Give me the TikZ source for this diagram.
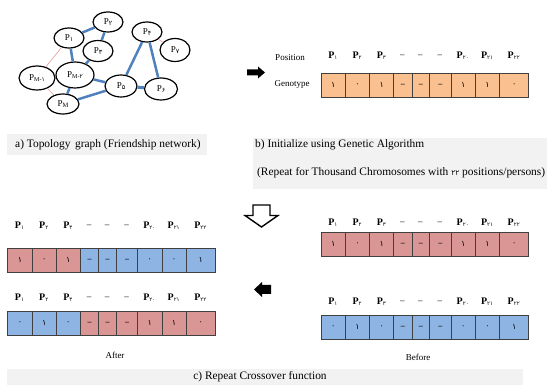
\documentclass[tikz,border=0pt]{standalone}
\usepackage{fontspec}
\setmainfont{Liberation Serif}
\newfontfamily\fa[Script=Arabic]{DejaVu Sans}
\usetikzlibrary{shapes.geometric}
\definecolor{gblue}{HTML}{4F81BD}
\definecolor{pinkedge}{HTML}{E39A9A}
\definecolor{orfill}{HTML}{FAC090}
\definecolor{rdfill}{HTML}{D99694}
\definecolor{blfill}{HTML}{8EB4E3}
\definecolor{cellborder}{HTML}{404040}
\definecolor{capbg}{HTML}{F2F2F2}
\newcommand\one{{\fa ۱}}
\newcommand\zer{{\fa ۰}}
\newcommand\dsh{{\fontsize{8}{8}\selectfont\bfseries –}}
\newcommand\hP[1]{\textbf{P}\raisebox{-0.3ex}{\fa\fontsize{5.5}{5.5}\selectfont #1}}
\newcommand\hD{{\fontsize{9}{9}\selectfont –}}
\newcommand\gP[1]{P\raisebox{-0.2ex}{\fa\fontsize{6.5}{6.5}\selectfont #1}}
\newcommand\hdrrow[3]{%
  \foreach \i/\c/\t in {1/12.15/\hP{۱},2/36.45/\hP{۲},3/60.6/\hP{۳},4/81.75/\hD,5/99.75/\hD,6/119.25/\hD,7/142.05/\hP{۲۰},8/166.35/\hP{۲۱},9/193/\hP{۲۲}}
  {\node[hdr] (#1-\i) at (#2+\c,#3) {\t};}}
\newcommand\cellrow[4]{%
  \foreach \f/\v [count=\i] in {#4} {
    \pgfmathsetmacro\xa{{0,24.3,48.6,72.6,90.9,108.6,129.9,154.2,178.5}[\i-1]}
    \pgfmathsetmacro\w{{24.3,24.3,24,18.3,17.7,21.3,24.3,24.3,29}[\i-1]}
    \node[cellbox, fill=\f, minimum width=\w, minimum height=24, anchor=north west] (#1-\i) at (#2+\xa,#3) {\v};
  }}
\begin{document}
\begin{tikzpicture}[x=1pt,y=-1pt,
  gnode/.style={ellipse, draw, line width=1.2pt, inner sep=0pt, font=\fontsize{9}{10}\selectfont},
  bedge/.style={draw=gblue, line width=2.5pt},
  pedge/.style={draw=pinkedge, line width=0.6pt},
  cellbox/.style={rectangle, draw=cellborder, line width=0.9pt, inner sep=0pt, font=\fontsize{8}{8}\selectfont},
  hdr/.style={font=\fontsize{10}{11}\selectfont, inner sep=0pt},
  lbl/.style={font=\fontsize{9}{10}\selectfont, inner sep=0pt},
  captxt/.style={font=\fontsize{11.4}{13}\selectfont, inner sep=0pt},
  capbox/.style={fill=capbg, inner sep=0pt, anchor=north west}]
\useasboundingbox (0,0) rectangle (547,385);

% ---- graph ----
\node[gnode, minimum width=30, minimum height=20] (p1) at (69,38) {\gP{۱}};
\node[gnode, minimum width=30, minimum height=20] (p2) at (108,22) {\gP{۲}};
\node[gnode, minimum width=30, minimum height=21] (p3) at (98,51) {\gP{۳}};
\node[gnode, minimum width=30, minimum height=20] (p4) at (147,32) {\gP{۴}};
\node[gnode, minimum width=30, minimum height=23] (p7) at (175,50) {\gP{۷}};
\node[gnode, minimum width=36, minimum height=24] (pm1) at (37,78) {P\raisebox{-0.4ex}{\fontsize{6}{6}\selectfont M-{\fa ۱}}};
\node[gnode, minimum width=38, minimum height=26] (pm2) at (75,75) {P\raisebox{-0.4ex}{\fontsize{6}{6}\selectfont M-{\fa ۲}}};
\node[gnode, minimum width=32, minimum height=20] (pm) at (63,104) {P\raisebox{-0.4ex}{\fontsize{6.5}{6.5}\selectfont M}};
\node[gnode, minimum width=32, minimum height=22] (p5) at (121,86) {\gP{۵}};
\node[gnode, minimum width=33, minimum height=22] (p6) at (161,89) {\gP{۶}};

\draw[bedge] (p1) -- (p2);
\draw[bedge] (p2) -- (p3);
\draw[bedge] (p1) -- (pm2);
\draw[bedge] (p3) -- (pm2);
\draw[bedge] (pm2) -- (p5);
\draw[bedge] (pm2) -- (pm);
\draw[bedge] (pm) -- (p5);
\draw[bedge] (p5) -- (p4);
\draw[bedge] (p4) -- (p6);
\draw[bedge, line width=3pt] (p5) -- (p6);
\draw[pedge] (p4) -- (p7);
\draw[pedge] (p1) -- (pm1);
\draw[pedge] (pm1) -- (pm);

% ---- right arrow ----
\fill (247,69.5) -- (258,69.5) -- (258,66.5) -- (265,72.5) -- (258,78.5) -- (258,75.5) -- (247,75.5) -- cycle;

% ---- initial chromosome ----
\node[lbl] (pos) at (290,58) {Position};
\node[lbl] (gen) at (292,84) {Genotype};
\hdrrow{th}{320.7}{56}
\cellrow{tc}{320.7}{73}{orfill/\one,orfill/\zer,orfill/\one,orfill/\dsh,orfill/\dsh,orfill/\dsh,orfill/\one,orfill/\one,orfill/\zer}

% ---- captions ----
\node[capbox, minimum width=200, minimum height=21] (capa) at (7,134) {};
\node[captxt, anchor=west] (capatxt) at (15,144.5) {a) Topology\, graph (Friendship network)};
\node[capbox, minimum width=294.3, minimum height=51] (capb) at (252.7,137.7) {};
\node[captxt, anchor=west] (capbtxt) at (255,144.5) {b) Initialize using Genetic Algorithm};
\node[captxt, anchor=west] (capbtxt2) at (257,172.5) {(Repeat for Thousand Chromosomes with {\fa\fontsize{7.5}{7.5}\selectfont ۲۲} positions/persons)};

% ---- down arrow ----
\draw[line width=1.4pt, fill=white, line join=miter] (253,205) -- (270,205) -- (270,215.5) -- (278,215.5) -- (261.5,227) -- (245,215.5) -- (253,215.5) -- cycle;

% ---- left arrow ----
\fill (254,289.5) -- (262,282) -- (262,285) -- (271,285) -- (271,294) -- (262,294) -- (262,297) -- cycle;

% ---- after ----
\hdrrow{a1h}{7.3}{226}
\cellrow{a1c}{7.3}{248}{rdfill/\one,rdfill/\zer,rdfill/\one,blfill/\dsh,blfill/\dsh,blfill/\dsh,blfill/\zer,blfill/\zer,blfill/\one}
\hdrrow{a2h}{7.3}{298}
\cellrow{a2c}{7.3}{311}{blfill/\zer,blfill/\one,blfill/\zer,rdfill/\dsh,rdfill/\dsh,rdfill/\dsh,rdfill/\one,rdfill/\one,rdfill/\zer}
\node[lbl] (after) at (115,355) {After};

% ---- before ----
\hdrrow{b1h}{320.7}{223}
\cellrow{b1c}{320.7}{232}{rdfill/\one,rdfill/\zer,rdfill/\one,rdfill/\dsh,rdfill/\dsh,rdfill/\dsh,rdfill/\one,rdfill/\one,rdfill/\zer}
\hdrrow{b2h}{320.7}{302}
\cellrow{b2c}{320.7}{315}{blfill/\zer,blfill/\one,blfill/\zer,blfill/\dsh,blfill/\dsh,blfill/\dsh,blfill/\zer,blfill/\zer,blfill/\one}
\node[lbl] (before) at (418,357) {Before};

% ---- c caption ----
\node[capbox, minimum width=516, minimum height=16] (capc) at (7,369) {};
\node[captxt] (capctxt) at (260,377) {c) Repeat Crossover function};
\end{tikzpicture}
\end{document}
